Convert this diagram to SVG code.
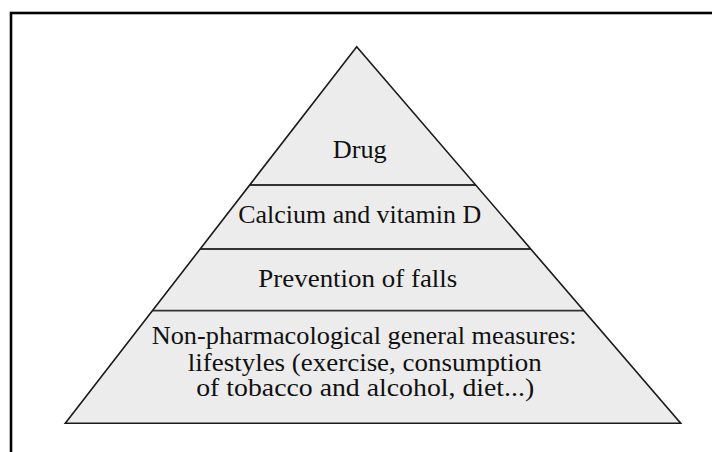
<svg xmlns="http://www.w3.org/2000/svg" width="712" height="452" viewBox="0 0 712 452">
<style>
.tier{fill:#ececec;stroke:none}
.edge{fill:none;stroke:#1a1a1a;stroke-width:1.6;stroke-linejoin:miter}
.div{stroke:#333;stroke-width:1.8}
.lbl{font-family:"Liberation Serif","Times New Roman",serif;font-size:25px;fill:#111;text-anchor:middle}
</style>
<rect x="0" y="0" width="712" height="452" fill="#ffffff"/>
<rect id="frame" x="11" y="13" width="720" height="460" fill="none" stroke="#000" stroke-width="2.6"/>
<g id="tier-drug">
<polygon class="tier" points="356.7,46.7 475.7,185 249.7,185"/>
<text class="lbl" x="359.7" y="157.5" textLength="54" lengthAdjust="spacingAndGlyphs">Drug</text>
</g>
<g id="tier-calcium">
<polygon class="tier" points="249.7,185 475.7,185 530.7,249 200.2,249"/>
<text class="lbl" x="359.7" y="223.3" textLength="243" lengthAdjust="spacingAndGlyphs">Calcium and vitamin D</text>
</g>
<g id="tier-falls">
<polygon class="tier" points="200.2,249 530.7,249 583.8,310.7 152.4,310.7"/>
<text class="lbl" x="357.8" y="286.5" textLength="199" lengthAdjust="spacingAndGlyphs">Prevention of falls</text>
</g>
<g id="tier-general">
<polygon class="tier" points="152.4,310.7 583.8,310.7 680.7,423.3 65.3,423.3"/>
<text class="lbl" x="364.2" y="344" textLength="425" lengthAdjust="spacingAndGlyphs">Non-pharmacological general measures:</text>
<text class="lbl" x="364.8" y="371" textLength="354" lengthAdjust="spacingAndGlyphs">lifestyles (exercise, consumption</text>
<text class="lbl" x="365.2" y="396" textLength="338" lengthAdjust="spacingAndGlyphs">of tobacco and alcohol, diet...)</text>
</g>
<g id="connectors">
<line class="div" x1="249.7" y1="185" x2="475.7" y2="185"/>
<line class="div" x1="200.2" y1="249" x2="530.7" y2="249"/>
<line class="div" x1="152.4" y1="310.7" x2="583.8" y2="310.7"/>
<polygon class="edge" points="356.7,46.7 680.7,423.3 65.3,423.3"/>
</g>
</svg>
